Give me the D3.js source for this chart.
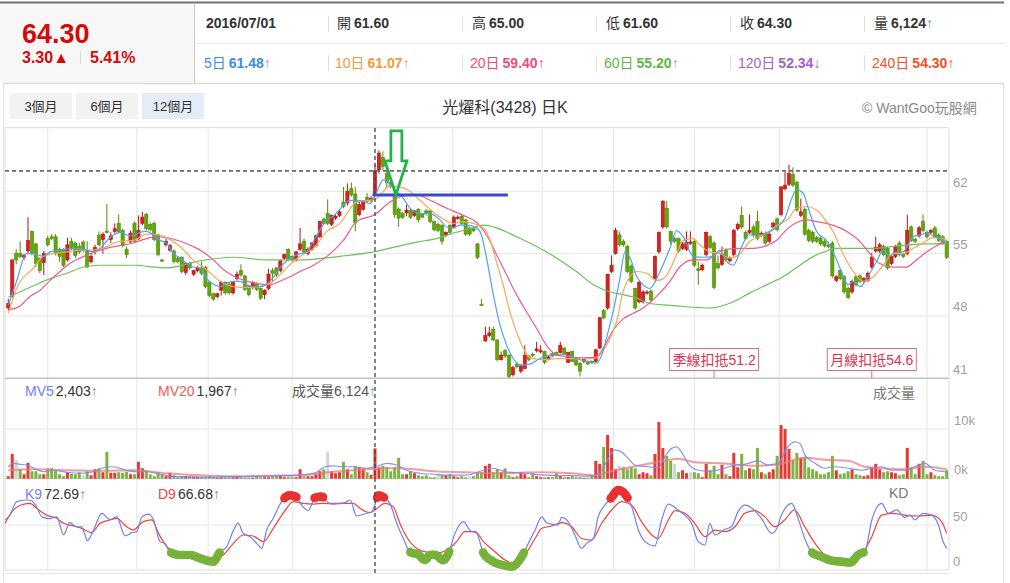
<!DOCTYPE html>
<html>
<head>
<meta charset="utf-8">
<script src="https://cdn.jsdelivr.net/npm/d3@7"></script>
<style>
body { margin: 0; background: #fff; overflow: hidden; }
svg text { font-family: "Liberation Sans", Arial, "Noto Sans CJK TC", sans-serif; }
</style>
</head>
<body>
<div id="chart"></div>
<script>
// daily OHLC, 12 months, [open, high, low, close]
var candles = [
[48.9,49.9,48.6,49.4],[50.2,54.3,50.1,54.3],[55.0,55.5,53.8,54.3],[55.0,56.4,54.5,54.7],[54.6,55.0,54.3,54.8],[55.3,59.1,55.0,56.5],[57.5,57.6,54.8,55.0],[56.1,56.2,53.5,53.9],[54.5,54.6,52.8,53.1],[54.0,55.3,52.6,55.0],
[56.7,57.0,55.8,56.0],[56.9,57.2,56.5,56.7],[56.9,57.2,54.8,55.0],[55.5,55.7,54.1,54.7],[55.5,55.6,53.5,53.7],[54.3,56.8,54.1,56.0],[56.4,56.8,55.4,55.7],[56.2,56.3,54.5,54.8],[55.8,56.2,55.0,55.2],[56.3,56.5,55.2,55.4],
[55.3,56.4,53.4,53.5],[54.1,55.1,53.9,54.7],[55.3,56.0,54.9,55.7],[57.1,57.5,55.8,56.0],[56.6,57.4,55.0,57.2],[57.5,60.6,57.3,57.4],[56.6,57.4,56.2,57.0],[57.5,58.4,57.3,57.8],[58.4,59.4,57.3,57.5],[57.6,57.8,55.7,55.9],
[55.5,55.8,54.5,54.9],[56.4,57.6,56.2,57.3],[58.4,58.6,56.2,56.4],[56.7,59.3,56.5,57.6],[58.4,59.7,58.2,59.1],[59.4,59.6,57.6,57.8],[58.3,58.5,57.5,57.7],[58.4,58.6,56.4,56.6],[57.1,57.2,54.7,54.9],[54.3,54.4,54.1,54.2],
[56.0,56.7,55.8,56.4],[55.4,56.1,55.2,55.9],[55.3,55.5,53.9,54.1],[54.5,54.7,53.9,54.1],[54.6,54.7,52.8,53.0],[52.9,54.0,52.6,53.9],[53.9,54.1,53.2,53.4],[52.7,53.2,52.5,53.1],[53.1,53.6,52.9,53.4],[53.4,54.1,52.6,52.8],
[53.5,53.6,51.1,51.3],[51.8,51.9,50.1,50.3],[50.5,50.6,49.7,49.9],[50.2,50.6,50.0,50.5],[50.9,51.9,50.3,51.8],[51.8,51.9,50.4,50.6],[51.6,51.8,50.4,50.6],[50.6,51.9,50.4,51.8],[52.2,53.0,52.0,52.7],[53.1,53.8,52.4,52.6],
[52.5,52.6,50.8,51.0],[51.3,51.4,50.2,50.4],[51.2,51.9,51.0,51.8],[51.6,51.8,50.8,51.0],[51.1,51.2,49.8,50.0],[50.4,51.0,49.9,50.9],[51.1,53.3,50.9,52.7],[53.1,53.4,51.8,52.8],[53.4,53.5,52.4,52.6],[53.1,54.3,52.9,54.2],
[54.5,55.0,54.3,54.9],[55.5,55.6,54.2,54.4],[54.7,54.8,54.1,54.3],[54.3,55.3,54.1,55.2],[55.5,57.9,55.3,56.1],[56.4,56.7,55.0,55.2],[55.0,55.7,54.8,55.5],[55.5,56.3,55.3,56.2],[55.9,57.1,55.7,57.0],[56.9,58.7,56.8,58.6],
[58.9,59.0,58.2,58.4],[59.5,61.1,58.2,58.4],[58.3,59.4,58.1,59.3],[59.0,59.4,58.8,59.2],[59.3,59.9,59.1,59.7],[60.8,62.5,60.1,60.3],[60.7,62.9,60.4,62.0],[62.3,63.0,61.4,61.6],[61.7,62.5,57.5,58.5],[59.4,60.9,59.2,60.5],
[60.0,61.0,59.8,60.9],[61.3,61.8,60.7,60.9],[61.0,61.5,60.7,61.2],[61.6,65.0,61.6,64.3],[64.4,66.6,64.0,66.3],[65.8,66.5,64.4,64.8],[64.0,64.6,62.4,63.0],[63.0,63.4,62.3,62.6],[61.7,62.0,59.0,59.4],[60.0,60.2,58.0,59.0],
[59.5,59.7,58.9,59.1],[59.6,60.5,59.2,59.9],[59.9,60.0,58.9,59.1],[59.3,59.9,59.1,59.8],[60.0,60.1,58.5,58.8],[59.4,59.6,59.0,59.1],[59.8,60.0,59.3,59.5],[59.8,59.9,58.4,58.6],[58.6,58.7,57.5,57.7],[58.3,58.5,57.4,57.6],
[58.2,58.3,56.0,56.4],[57.1,57.5,56.9,57.4],[58.2,58.3,57.2,57.4],[58.0,59.3,57.8,59.1],[59.0,59.3,58.8,59.1],[59.2,59.4,58.2,58.4],[58.8,58.9,57.0,57.2],[57.9,58.0,57.0,57.2],[57.8,57.9,57.4,57.6],[56.1,56.2,54.4,54.6],
[49.3,49.9,49.2,49.2],[45.2,46.8,45.1,45.8],[45.8,46.8,45.6,46.1],[46.5,46.8,45.2,45.3],[45.3,45.4,42.9,43.1],[43.1,44.0,43.0,43.6],[44.1,44.3,43.3,43.5],[43.6,43.7,41.0,41.2],[41.4,42.4,41.2,42.2],[42.6,42.8,42.1,42.3],
[41.8,42.5,41.6,42.4],[42.1,44.7,42.0,43.6],[43.5,43.6,42.9,43.1],[43.7,43.9,43.4,43.6],[44.1,45.1,43.9,44.3],[44.0,44.7,43.8,44.1],[44.0,44.1,42.6,42.8],[43.1,43.6,43.0,43.4],[43.8,44.0,43.4,43.5],[43.9,44.0,43.5,43.6],
[43.9,45.1,43.8,44.7],[44.4,44.5,43.6,43.7],[42.8,44.0,42.7,43.9],[44.0,44.1,42.8,42.9],[43.1,43.2,42.4,42.5],[42.7,42.8,41.2,41.8],[42.9,43.3,42.7,43.1],[42.9,43.0,42.5,42.6],[42.9,43.0,42.6,42.8],[42.9,44.3,42.8,44.2],
[44.4,47.9,44.3,47.8],[48.6,48.8,47.6,47.8],[48.9,52.7,48.7,52.7],[53.0,54.8,52.8,53.7],[55.0,57.9,54.9,57.6],[57.1,57.5,55.8,56.0],[56.4,56.6,55.8,56.0],[55.8,56.0,52.8,53.0],[53.6,53.8,51.7,51.9],[51.1,51.2,48.7,48.9],
[49.6,51.9,49.4,51.8],[49.6,50.9,49.4,50.7],[50.6,50.9,50.4,50.7],[50.8,51.0,49.6,49.8],[52.2,54.8,52.0,54.7],[55.2,57.5,55.0,57.4],[58.0,61.0,57.8,60.9],[60.1,60.9,57.8,58.0],[57.5,57.6,56.0,56.4],[56.7,56.9,56.2,56.4],
[56.7,56.8,55.1,55.3],[55.6,56.3,55.4,56.1],[55.5,57.5,55.3,56.3],[56.2,57.5,56.0,56.3],[56.4,56.5,53.5,53.7],[53.3,54.1,51.5,53.1],[53.2,53.9,53.0,53.7],[54.9,57.5,54.7,57.4],[56.9,57.1,55.5,55.7],[56.2,56.4,51.0,51.2],
[53.9,54.8,53.2,53.4],[53.8,55.8,53.6,54.9],[55.4,55.6,54.1,54.3],[54.2,54.7,54.0,54.5],[54.9,57.8,54.7,57.6],[57.8,58.5,57.6,58.3],[59.3,60.3,57.8,58.0],[57.4,57.6,56.5,56.7],[57.4,59.4,57.2,57.6],[58.0,58.2,56.9,57.1],
[58.6,59.8,56.5,56.7],[57.1,57.5,56.9,57.3],[57.3,57.5,56.0,56.2],[56.4,57.4,56.2,57.2],[58.0,58.6,57.8,58.4],[58.9,59.1,57.5,57.7],[59.4,62.6,59.2,62.5],[62.3,64.2,62.1,62.7],[62.8,65.0,62.6,64.0],[63.9,64.7,62.5,62.7],
[63.0,63.2,59.7,59.9],[59.3,61.2,59.1,59.7],[60.0,60.2,57.0,57.2],[57.6,57.8,56.3,56.5],[57.4,57.6,56.2,56.4],[56.8,57.0,56.2,56.4],[56.7,56.9,55.9,56.1],[56.4,56.6,55.7,55.9],[56.0,56.3,55.6,55.8],[56.2,56.4,52.3,52.5],
[52.0,52.6,51.8,52.4],[53.1,53.3,52.0,52.2],[52.4,52.6,50.5,50.7],[51.1,51.3,49.9,50.1],[50.7,52.1,50.5,51.9],[52.4,52.6,51.3,51.5],[52.5,52.7,51.7,51.9],[51.9,52.4,51.7,52.2],[52.0,53.0,51.8,52.8],[53.5,55.1,53.3,54.6],
[55.3,56.9,55.1,55.7],[55.3,56.2,55.1,56.0],[55.8,56.0,54.7,54.9],[55.6,55.8,53.2,53.4],[53.9,54.9,53.7,54.7],[54.7,56.0,54.5,55.8],[56.2,56.4,54.7,54.9],[54.9,55.1,54.5,54.7],[55.0,59.4,54.8,57.6],[58.0,58.2,56.3,56.5],
[56.6,56.8,56.2,56.4],[57.0,58.1,56.8,57.9],[58.6,59.4,57.4,57.6],[57.4,57.6,56.7,56.9],[57.4,57.8,57.2,57.6],[57.9,58.1,56.7,56.9],[57.1,57.3,56.3,56.5],[56.9,57.1,56.0,56.2],[56.4,56.6,54.4,54.6]
];

// volume in thousand lots
var volumes = [
0.5,5.0,3.8,1.9,0.9,3.2,1.5,1.5,0.9,0.9, 2.1,2.1,1.7,0.9,0.5,1.3,1.0,0.9,1.3,0.7,
1.5,0.7,1.9,2.1,1.3,5.4,1.2,1.2,1.3,1.2, 1.4,0.9,0.9,3.4,2.1,1.7,0.9,0.5,1.3,0.9,
0.5,1.2,0.7,0.3,0.5,0.5,0.5,0.4,0.4,0.3, 0.3,0.5,0.3,0.2,0.3,0.3,0.3,0.3,0.5,0.3,
0.2,0.2,0.2,0.5,0.3,0.3,0.3,0.5,0.5,0.7, 0.3,0.3,0.3,0.3,1.9,0.5,0.5,0.5,0.9,1.5,
1.9,5.4,1.5,1.1,1.3,3.4,1.9,0.9,2.6,2.3, 2.1,1.3,0.8,6.1,2.3,2.6,2.3,1.5,2.3,4.2,
0.9,0.9,1.5,1.1,0.7,0.5,0.7,0.3,0.3,0.9, 0.7,0.7,0.9,0.5,0.3,0.5,0.3,0.5,0.5,1.3,
1.3,2.6,3.0,1.3,1.9,1.3,2.1,0.7,0.3,0.5, 1.3,0.9,0.3,1.1,0.5,0.3,0.3,0.3,0.3,1.1,
0.5,0.3,0.3,0.5,0.3,0.3,0.2,0.2,0.7,3.6, 3.0,6.4,8.8,6.2,1.9,2.6,2.3,1.9,2.3,2.1,
0.9,1.3,1.1,0.7,5.0,11.4,6.2,4.6,3.6,3.0, 1.3,1.7,1.1,1.3,1.3,1.1,0.3,3.0,1.7,2.6,
0.9,2.8,0.9,0.5,5.2,2.3,5.0,1.7,2.1,1.9, 6.2,1.3,0.9,1.3,1.9,4.6,10.8,10.0,6.0,3.8,
5.2,4.2,4.4,2.3,1.9,1.5,0.9,0.9,1.3,4.6, 1.7,0.9,1.1,1.5,1.9,0.9,0.7,0.5,0.7,2.3,
3.0,1.9,1.3,1.5,1.3,1.1,0.7,0.9,6.2,2.3, 0.9,3.0,3.6,0.9,1.3,0.7,0.5,0.5,1.7
];
var flatDays = [2, 19, 81, 109, 117, 155, 169, 173];

// moving averages, [day index, value]
var ma5Pts = [[0,49.2],[2.1,51.9],[4.6,55.0],[6.4,55.0],[8.9,54.7],[10.6,55.2],[13.1,55.4],[17.3,55.6],[19.9,55.4],[21.6,55.2],[23.3,55.6],[24.9,56.4],[26.6,57.1],[28.3,57.4],[30.1,57.1],[31.7,57.0],[33.4,57.4],[35.1,57.5],[36.8,57.1],[38.4,56.5],[40.1,56.2],[41.9,55.0],[43.6,54.5],[45.3,53.9],[46.9,53.5],[48.6,53.4],[50.3,52.2],[52.0,51.6],[53.7,51.3],[55.4,51.7],[57.1,51.9],[58.8,51.9],[60.5,51.5],[62.2,51.3],[63.8,51.3],[65.6,51.6],[67.3,52.4],[68.9,53.4],[70.6,54.2],[72.3,54.7],[74.0,55.0],[75.6,55.2],[77.4,56.4],[79.1,57.7],[80.8,58.8],[82.4,59.2],[84.1,60.0],[86.6,61.0],[90.0,60.9],[91.7,60.6],[93,61.5],[95.1,63.3],[96.8,62.8],[98.5,62.0],[100.2,61.2],[101.9,60.1],[104.4,59.5],[106.9,59.5],[109.5,58.8],[111.2,58.0],[112.8,57.9],[114.6,58.2],[116.3,58.2],[118.8,57.9],[120.0,57.1],[121.3,54.5],[123.0,50.4],[124.7,47.0],[126.4,44.7],[128.1,43.2],[129.8,42.5],[132.3,42.6],[134.8,43.2],[137.4,43.6],[140.8,43.7],[144.1,43.2],[146.7,42.9],[149.2,42.7],[150.5,43.6],[151.7,45.5],[153.4,48.5],[155.1,52.2],[156.4,55.2],[157.7,54.5],[159.4,52.4],[161.0,51.5],[162.7,51.1],[165.3,53.0],[167.8,55.6],[169.5,57.6],[171.2,56.9],[173.7,54.7],[176.3,54.6],[178.8,54.7],[180.5,55.4],[182.2,54.1],[183.9,53.7],[186.0,55.8],[187.7,57.1],[189.8,57.1],[192.3,57.3],[194.9,58.0],[197.0,59.0],[198.7,61.2],[199.9,62.2],[201.6,61.8],[202.9,60.1],[205.0,57.5],[207.5,56.5],[209.2,55.2],[211.3,53.0],[213.0,51.5],[214.3,51.9],[216.0,51.3],[217.7,52.2],[220.2,54.1],[221.9,55.4],[223.6,54.7],[225.3,55.2],[226.9,55.2],[229.5,56.9],[231.2,57.1],[232.9,57.3],[234.6,57.0],[236.2,56.7],[238,56.2]];
var ma10Pts = [[0,48.3],[2.1,51.1],[6.4,53.4],[8.9,54.7],[11.4,55.0],[14.8,55.2],[18.2,55.4],[21.6,55.4],[24.9,55.8],[28.3,56.4],[31.7,56.5],[35.1,57.2],[38.4,57.1],[40.1,56.8],[43.6,55.8],[46.9,54.3],[50.3,53.2],[53.7,51.9],[57.1,51.3],[60.5,51.2],[63.8,51.3],[67.2,51.9],[70.6,53.4],[74.0,54.7],[77.4,55.6],[80.8,57.5],[84.1,58.4],[88.3,60.8],[93,61.1],[96.8,62.6],[99.3,62.5],[101.9,62.0],[104.4,61.0],[106.9,60.0],[110.3,58.9],[112.8,58.4],[115.4,58.6],[117.9,58.4],[120.5,57.9],[122.2,56.5],[123.8,54.1],[125.5,51.5],[127.2,48.5],[128.9,46.2],[130.6,44.4],[132.3,43.3],[135.7,43.1],[139.1,43.2],[142.4,43.2],[145.8,43.2],[148.4,43.2],[150.0,43.6],[152.6,45.5],[154.3,47.4],[155.9,50.7],[157.6,52.4],[159.4,53.0],[161.9,52.8],[164.4,52.0],[166.1,52.2],[167.8,53.2],[169.2,54.6],[171.2,56.5],[173.7,56.7],[175.4,56.0],[177.9,55.2],[180.5,55.0],[183.0,54.5],[185.6,55.0],[188.1,56.4],[190.6,56.9],[193.2,57.6],[195.7,58.4],[197.8,58.9],[199.9,60.1],[202.4,60.3],[205.0,59.9],[207.5,58.6],[209.2,57.5],[211.8,54.9],[214.3,53.0],[216.8,51.9],[219.4,52.4],[221.9,53.7],[224.4,55.0],[226.9,55.0],[229.5,55.6],[232.0,56.2],[234.6,56.8],[237.1,56.7],[238,56.3]];
var ma20Pts = [[0,48.7],[2.9,49.1],[5.5,50.2],[8.1,50.9],[10.6,52.0],[13.1,53.0],[15.6,53.9],[18.2,54.5],[20.7,55.0],[23.3,55.4],[25.8,55.7],[28.3,55.9],[31.7,56.2],[35.1,56.7],[37.6,56.9],[40.1,56.8],[43.6,56.4],[46.9,55.8],[49.4,55.2],[52.0,54.3],[54.6,53.2],[57.1,52.5],[60.5,51.9],[63.8,51.6],[66.4,51.5],[68.9,51.9],[71.4,52.4],[74.0,53.0],[77.4,53.7],[80.8,54.7],[85.0,56.5],[88.3,58.6],[93,59.4],[96.8,60.8],[100.2,61.5],[103.6,61.6],[107.0,61.0],[111.2,60.1],[115.4,59.3],[118.8,58.5],[121.3,57.1],[123.8,54.9],[126.4,52.6],[128.9,50.4],[131.4,48.5],[134.0,46.6],[136.5,44.7],[139.1,43.6],[142.4,43.4],[145.8,43.3],[149.2,43.4],[150.9,44.4],[153.4,46.4],[156.0,47.7],[158.5,48.3],[161.0,48.9],[164.4,50.2],[167.8,51.9],[170.3,53.5],[173.7,54.3],[177.1,54.3],[179.6,55.0],[182.2,55.5],[185.5,55.6],[188.9,55.6],[192.3,55.9],[194.9,56.5],[197.4,57.7],[199.9,58.5],[202.4,58.8],[205.0,58.6],[207.5,58.4],[210.9,57.9],[213.4,57.3],[215.9,56.4],[218.5,55.0],[221.0,53.9],[224.4,53.5],[227.8,53.5],[230.3,54.3],[232.9,55.2],[235.4,55.9],[238,56.5]];
var ma60Pts = [[0,50.1],[2.9,50.7],[6.4,51.4],[10.6,52.2],[14.8,52.8],[19.1,53.5],[23.3,53.7],[31.7,53.7],[40.1,53.4],[48.6,54.2],[57.1,54.6],[65.6,54.3],[74.0,54.3],[84.1,54.7],[92.6,55.2],[98.5,55.8],[103.6,56.3],[108.6,56.7],[112.8,57.3],[117.1,57.8],[120.5,58.2],[123.8,57.9],[128.9,56.9],[134.0,55.8],[139.1,54.5],[144.1,53.0],[148.4,51.5],[152.6,50.7],[156.0,50.4],[159.4,50.0],[162.7,49.4],[167.8,49.2],[170.3,49.1],[177.9,48.9],[183.9,49.6],[188.1,50.6],[192.3,51.5],[196.5,52.4],[200.8,53.7],[204.2,54.7],[207.5,55.3],[209.2,55.6],[212.6,55.6],[219.4,55.6],[226.1,55.9],[232.9,56.1],[238,56.1]];

// volume averages (thousand lots)
var mv5Pts = [[0,2.4],[1.3,3.1],[3.0,2.9],[4.7,2.75],[6.3,2.2],[8.9,1.4],[11.4,1.7],[14.8,1.3],[18.2,1.1],[21.6,1.4],[24.1,2.2],[26.6,2.4],[30.0,1.7],[32.6,1.4],[35.1,1.4],[38.5,0.9],[41.9,0.4],[48.6,0.3],[57.1,0.4],[65.5,0.5],[70.6,0.6],[74.0,0.7],[78.2,1.3],[80.3,2.4],[82.4,2.6],[85.0,2.4],[87.5,2.4],[90.9,2.1],[93,2.4],[96.0,3.1],[98.5,2.75],[101.0,1.7],[104.4,1.1],[107.8,0.9],[112.0,0.7],[116.2,0.7],[120.5,1.7],[123.0,2.1],[126.0,1.4],[131.0,1.1],[136.1,0.7],[142.9,0.6],[147.9,0.5],[150.5,1.7],[152.2,4.1],[153.8,5.8],[155.5,5.4],[157.2,4.1],[158.9,2.75],[162.3,2.4],[164.8,2.2],[166.5,4.4],[168.2,6.1],[169.5,6.4],[170.7,5.4],[172.4,3.1],[175.0,1.7],[177.5,1.5],[180.9,1.9],[184.3,2.75],[186.8,2.9],[190.2,3.6],[192.7,2.75],[195.3,3.1],[197.4,6.1],[199.5,7.4],[200.8,7.1],[202.0,4.8],[204.6,3.1],[207.1,2.1],[209.6,2.4],[213.0,2.1],[216.4,1.7],[218.9,2.1],[221.5,2.4],[224.0,1.7],[227.4,1.7],[229.9,2.4],[232.5,3.1],[235.0,1.7],[237.5,1.4],[238,1.3]];
var mv20Pts = [[0,1.7],[6.3,1.9],[14.8,1.7],[23.3,1.6],[31.7,1.7],[40.2,1.1],[48.6,0.7],[57.1,0.5],[65.5,0.6],[74.0,0.7],[82.4,1.4],[90.9,1.9],[93,1.97],[95.1,2.1],[99.3,2.1],[107.8,1.5],[116.2,1.3],[124.7,1.1],[134.4,1.3],[142.9,1.1],[148.8,0.7],[153.8,1.7],[159.8,2.6],[166.5,3.6],[169.9,4.0],[174.1,3.3],[180.9,3.1],[189.4,2.6],[195.3,2.9],[202.0,4.2],[207.1,3.8],[213.0,3.6],[217.3,2.4],[221.5,2.1],[227.4,1.9],[232.5,2.4],[238,1.9]];

// KD(9)
var kPts = [[-0.8,55.6],[0.4,61],[2.1,76],[4.7,77.8],[5.9,77],[7.2,70],[8.5,59],[10.6,57],[12.3,59],[14.0,39],[15.6,52.6],[17.3,48],[18.6,48],[20.1,32.6],[21.6,44],[23.7,63],[25.8,56],[27.5,59],[29.6,38],[31.3,41.5],[32.6,42.6],[33.8,58.5],[35.5,62],[36.8,56],[38.5,31.5],[39.7,29.6],[41.0,20],[43.5,16.7],[46.1,16.7],[48.6,13],[52.0,9.3],[53.7,20],[55.4,26],[57.1,44],[58.3,52],[59.6,40.7],[61.3,37],[63.0,29.6],[64.3,24],[65.5,44],[67.2,57.4],[69.3,76],[71.4,83],[73.1,81],[74.4,72],[76.1,66],[77.8,80.5],[79.5,81.5],[81.6,74],[83.7,74],[85.4,74.8],[86.7,77.8],[88.3,60],[90.9,63],[92.2,64.8],[93,72.7],[93.9,83],[95.1,81],[96.8,74],[98.5,52],[100.2,35],[101.9,20],[104.0,17],[105.7,11],[107.0,17],[108.2,17],[110.3,11],[111.6,18],[113.3,40.7],[115.4,53.7],[117.1,44],[118.8,40.7],[120.5,19],[123.0,9.3],[126.0,5],[127.7,3.7],[130.2,14.8],[131.9,29.6],[133.6,44.4],[135.3,59],[136.5,52.6],[138.2,50.7],[139.5,50],[140.3,58.5],[142.0,53.7],[143.7,38.9],[145.4,24],[146.7,29.6],[148.4,35],[149.6,59],[151.3,72],[153.0,80.7],[154.7,88.9],[156.4,84.4],[158.1,70.4],[159.8,44.4],[161.5,31.5],[164.0,26.7],[165.7,55.6],[167.4,73.3],[169.9,66.7],[171.6,61],[173.3,51.9],[175.0,31.5],[176.7,27.8],[177.9,51.9],[179.2,38.9],[181.8,45.2],[183.4,48],[185.1,64.8],[186.8,72],[189.3,66],[191.0,57.4],[193.6,40.7],[194.8,45.2],[196.1,61],[198.7,74],[200.3,57.4],[202.0,35],[203.7,20],[206.2,14.8],[208.8,10.4],[211.3,9.3],[213.5,8.1],[215.6,17],[217.3,21],[219.0,55.6],[221.5,74],[223.2,63],[225.3,66.7],[227.4,58.5],[228.7,61],[229.9,55.6],[232.0,63],[234.2,61],[235.9,50],[237.1,31.5],[238,24]];
var dPts = [[-0.8,51.9],[1.3,66.7],[3.0,72],[5.5,74],[7.2,68.5],[9.7,61],[12.3,57.4],[14.0,51.9],[16.5,49],[18.6,46.3],[21.1,41.5],[23.3,51.9],[25.8,55.6],[27.5,57.4],[30.0,48],[31.7,44.4],[34.2,53.7],[36.4,55.6],[38.1,40.7],[40.2,26],[42.7,20],[45.2,17.8],[48.6,15.6],[52.0,11],[54.5,16.7],[57.1,29.6],[59.6,38.9],[62.1,37.8],[64.7,31.5],[67.2,46.3],[69.7,63],[72.3,76],[74.8,74],[77.4,73.3],[79.9,74],[82.4,73.3],[85.0,74],[87.5,74],[89.2,68.5],[91.7,63.7],[93,66.7],[95.5,74],[97.6,70.4],[99.3,52],[101.0,37],[103.6,24],[106.1,20],[108.6,19],[111.2,22],[113.7,31.5],[115.8,42.6],[118.4,42.6],[120.5,31.5],[123.0,22],[126.0,11],[128.5,6.7],[131.0,16.7],[133.6,35],[135.3,46.3],[137.8,48.9],[140.3,52.6],[142.9,48],[145.4,35],[147.9,33.3],[150.5,51.9],[153.0,66.7],[155.6,76],[158.1,72],[160.6,53.7],[163.2,38.9],[164.8,35],[167.4,55.6],[169.1,66],[171.6,63],[174.1,51.9],[176.7,37],[179.2,44.4],[181.8,42.6],[184.3,48],[186.8,63],[189.3,66],[191.9,59],[194.4,48],[196.9,55.6],[199.4,66.7],[202.0,48],[204.6,29.6],[207.1,16.7],[210.5,11],[213.9,9.3],[216.4,16.7],[219.0,37],[221.5,61],[224.1,63],[227.4,61],[230.8,60],[234.2,61],[236.7,53.7],[238,40.7]];

var priceTicks = [62, 55, 48, 41];
var volTicks = [10, 0];
var kdTicks = [50, 0];
var monthStarts = [10, 32.6, 50.7, 72, 112.7, 135.4, 153.5, 174, 195.5, 233];
var crossIdx = 93;
var crossClose = 64.30;
var supportPrice = 61.6, supportEnd = 126.7, arrowIdx = 98.3;
var deductions = [[179, "季線扣抵", 51.2], [219, "月線扣抵", 54.6]];
var kdLow = 20.5, kdHigh = 79.5;

var headRow1 = [["", "2016/07/01", ""], ["開", "61.60", ""], ["高", "65.00", ""], ["低", "61.60", ""], ["收", "64.30", ""], ["量", "6,124", "↑"]];
var headRow2 = [["5日", "61.48", "↑"], ["10日", "61.07", "↑"], ["20日", "59.40", "↑"], ["60日", "55.20", "↑"], ["120日", "52.34", "↓"], ["240日", "54.30", "↑"]];
var row2Colors = ["#3b8ee0", "#f7983a", "#ec4d7e", "#5ab841", "#a25fd1", "#f4511e"];
var row2ArrowColors = ["#9f8ad6", "#f7983a", "#ec4d7e", "#5fb8b8", "#a25fd1", "#f4511e"];
var rangeButtons = ["3個月", "6個月", "12個月"];

var W = 1010, H = 583;
var plotLeft = 5, plotRight = 949;
var upFill = "#d5231f", upLine = "#b8100d", downFill = "#62a60c", downLine = "#4e8c06";

var svg = d3.select("#chart").append("svg")
    .attr("width", W)
    .attr("height", H);

var x = d3.scaleLinear().domain([0, candles.length - 1]).range([8.3, 946.7]);
var yPrice = d3.scaleLinear().domain([41, 69.12]).range([378.3, 128]);
var yVol = d3.scaleLinear().domain([0, 10]).range([478.7, 429]);
var yKD = d3.scaleLinear().domain([0, 100]).range([570, 480]);

function addText(g, tx, ty, size, color, weight) {
    return g.append("text")
        .attr("x", tx)
        .attr("y", ty)
        .style("font-size", size + "px")
        .style("fill", color)
        .style("font-weight", weight || "normal");
}

function hline(g, x1, x2, yy, color, w) {
    return g.append("line").attr("x1", x1).attr("x2", x2).attr("y1", yy).attr("y2", yy)
        .style("stroke", color).style("stroke-width", w || 1);
}

function vline(g, xx, y1, y2, color, w) {
    return g.append("line").attr("x1", xx).attr("x2", xx).attr("y1", y1).attr("y2", y2)
        .style("stroke", color).style("stroke-width", w || 1);
}

function drawHeader() {
    var g = svg.append("g");
    g.append("rect").attr("x", 0).attr("y", 3).attr("width", 194).attr("height", 80).style("fill", "#f7f7f7");
    hline(g, 0, 1004, 2.5, "#6e7378", 2);
    hline(g, 3, 1004, 83.5, "#dcdcdc", 1.5);
    hline(g, 194, 1004, 43.5, "#e8e8e8", 1);
    vline(g, 194.5, 3, 83, "#c9c9c9", 1);
    vline(g, 3.5, 83, 583, "#e2e2e2", 1);
    vline(g, 1003.5, 83, 583, "#dcdcdc", 1);

    addText(g, 22, 43, 27, "#d20a0a", "bold").text("64.30");
    addText(g, 22, 63, 16, "#d20a0a", "bold").text("3.30▲");
    vline(g, 80.5, 51, 64, "#d8d8d8", 1);
    addText(g, 90, 63, 16, "#d20a0a", "bold").text("5.41%");

    var col = [206, 337, 472, 606, 740, 874];
    [328, 462, 596, 730, 864].forEach(function(sx) {
        vline(g, sx + 0.5, 16, 32, "#dddddd", 1);
        vline(g, sx + 0.5, 55, 71, "#dddddd", 1);
    });

    headRow1.forEach(function(d, i) {
        var t = addText(g, col[i], 28, 14, "#333");
        if (d[0]) t.append("tspan").text(d[0]);
        t.append("tspan").attr("dx", d[0] ? 3 : 0).style("font-weight", "bold").text(d[1]);
        if (d[2]) t.append("tspan").style("fill", "#4aa3b0").text(d[2]);
    });

    headRow2.forEach(function(d, i) {
        var t = addText(g, col[i] - 2, 67.5, 14, row2Colors[i]);
        t.append("tspan").text(d[0]);
        t.append("tspan").attr("dx", 3).style("font-weight", "bold").text(d[1]);
        t.append("tspan").style("fill", row2ArrowColors[i]).text(d[2]);
    });

    rangeButtons.forEach(function(b, i) {
        g.append("rect")
            .attr("x", 10 + i * 66).attr("y", 93)
            .attr("width", 62).attr("height", 26)
            .style("fill", i == 2 ? "#e4edf7" : "#f2f2f2");
        addText(g, 41 + i * 66, 111, 13, "#333").attr("text-anchor", "middle").text(b);
    });

    addText(g, 505, 113, 16, "#333").attr("text-anchor", "middle").text("光燿科(3428) 日K");
    addText(g, 862, 112.5, 14, "#8a8a8a").text("© WantGoo玩股網");
}

function drawFrames() {
    var g = svg.append("g");
    // month grid
    monthStarts.forEach(function(m) {
        vline(g, x(m), 128, 570, "#e6e6e6", 1);
    });
    priceTicks.slice(0, 3).forEach(function(v) {
        hline(g, plotLeft, plotRight, yPrice(v), "#e6e6e6", 1);
    });
    hline(g, plotLeft, plotRight, yVol(10), "#e6e6e6", 1);
    hline(g, plotLeft, plotRight, yKD(50), "#e6e6e6", 1);

    hline(g, plotLeft, plotRight, 127.7, "#dddddd", 1);
    vline(g, plotLeft, 127.7, 570, "#dddddd", 1);
    vline(g, plotRight, 127.7, 570, "#dddddd", 1);
    hline(g, plotLeft, plotRight, 378.3, "#c4c4c4", 1.5);
    hline(g, plotLeft, plotRight, 478.7, "#cfcfcf", 1.2);
    hline(g, plotLeft, plotRight, 570, "#dddddd", 1.2);
    hline(g, plotLeft, plotRight, 573.5, "#e6e6e6", 1);

    priceTicks.forEach(function(v) {
        addText(g, 953, yPrice(v) - 4.5, 13, "#a0a0a0").text(v);
    });
    volTicks.forEach(function(v) {
        addText(g, 954, yVol(v) - 4.3, 13, "#a0a0a0").text(v + "k");
    });
    kdTicks.forEach(function(v) {
        addText(g, 953, yKD(v) - 4.3, 13, "#a0a0a0").text(v);
    });
}

function drawLine(pts, yScale, color, width, opacity) {
    var line = d3.line()
        .x(function(d) { return x(d[0]); })
        .y(function(d) { return yScale(d[1]); })
        .curve(d3.curveMonotoneX);
    return svg.append("path")
        .datum(pts)
        .attr("d", line)
        .style("fill", "none")
        .style("stroke", color)
        .style("stroke-width", width)
        .style("opacity", opacity || 1);
}

function drawCandles() {
    var g = svg.append("g");
    g.selectAll(".wick")
        .data(candles)
        .enter().append("line")
        .attr("class", "wick")
        .attr("x1", function(d, i) { return x(i); })
        .attr("x2", function(d, i) { return x(i); })
        .attr("y1", function(d) { return yPrice(d[1]); })
        .attr("y2", function(d) { return yPrice(d[2]); })
        .style("stroke", function(d) { return d[3] >= d[0] ? upLine : downLine; })
        .style("stroke-width", 1);

    g.selectAll(".body")
        .data(candles)
        .enter().append("rect")
        .attr("class", "body")
        .attr("x", function(d, i) { return x(i) - 1.6; })
        .attr("width", 3.2)
        .attr("y", function(d) { return yPrice(Math.max(d[0], d[3])); })
        .attr("height", function(d) {
            return Math.max(1.2, yPrice(Math.min(d[0], d[3])) - yPrice(Math.max(d[0], d[3])));
        })
        .style("fill", function(d) { return d[3] >= d[0] ? upFill : downFill; })
        .style("stroke", function(d) { return d[3] >= d[0] ? upLine : downLine; })
        .style("stroke-width", 0.6);
}

function drawVolume() {
    var g = svg.append("g");
    g.selectAll("rect")
        .data(volumes)
        .enter().append("rect")
        .attr("x", function(d, i) { return x(i) - 1.5; })
        .attr("width", 3)
        .attr("y", function(d) { return yVol(d); })
        .attr("height", function(d) { return yVol(0) - yVol(d); })
        .style("fill", function(d, i) {
            if (flatDays.indexOf(i) >= 0) return "#cfd6db";
            return candles[i][3] >= candles[i][0] ? "#e53935" : "#7cb342";
        });
    drawLine(mv20Pts, yVol, "#f07a7a", 2, 0.75);
    drawLine(mv5Pts, yVol, "#7688f5", 1.2, 0.9);

    var t = addText(svg, 25, 396, 14, "#6f7ff7");
    t.append("tspan").text("MV5");
    t.append("tspan").attr("dx", 2).style("fill", "#333").text("2,403");
    t.append("tspan").style("fill", "#a070a8").text("↑");
    var t2 = addText(svg, 158, 396, 14, "#f05a5a");
    t2.append("tspan").text("MV20");
    t2.append("tspan").attr("dx", 2).style("fill", "#333").text("1,967");
    t2.append("tspan").style("fill", "#a070a8").text("↑");
    var t3 = addText(svg, 292, 396, 14, "#555");
    t3.append("tspan").text("成交量6,124");
    t3.append("tspan").style("fill", "#4aa3b0").text("↑");
    addText(svg, 873, 398, 14, "#777").text("成交量");
}

// dots along the K curve wherever it sits in the overbought / oversold zone
function drawBeads(path, test, color) {
    var node = path.node(), len = node.getTotalLength();
    var spots = [];
    for (var s = 0; s <= len; s += 2.2) {
        var p = node.getPointAtLength(s);
        if (test(yKD.invert(p.y))) spots.push(p);
    }
    svg.append("g").selectAll("circle")
        .data(spots)
        .enter().append("circle")
        .attr("cx", function(p) { return p.x; })
        .attr("cy", function(p) { return p.y; })
        .attr("r", 4.3)
        .style("fill", color);
}

function drawKD() {
    drawLine(dPts, yKD, "#f0443a", 1.2);
    var kPath = drawLine(kPts, yKD, "#6f80f2", 1.2);

    drawBeads(kPath, function(v) { return v <= kdLow; }, "#77b23a");
    drawBeads(kPath, function(v) { return v >= kdHigh; }, "#e8312f");

    var t = addText(svg, 25, 499, 14, "#6f80f2");
    t.append("tspan").text("K9");
    t.append("tspan").attr("dx", 2).style("fill", "#333").text("72.69");
    t.append("tspan").style("fill", "#a070a8").text("↑");
    var t2 = addText(svg, 158, 499, 14, "#f0443a");
    t2.append("tspan").text("D9");
    t2.append("tspan").attr("dx", 2).style("fill", "#333").text("66.68");
    t2.append("tspan").style("fill", "#a070a8").text("↑");
    addText(svg, 889, 498, 14, "#777").text("KD");
}

function drawMarkers() {
    var g = svg.append("g");
    // crosshair
    vline(g, x(crossIdx), 128, 574, "#444", 1.3).style("stroke-dasharray", "4,3");
    hline(g, plotLeft, plotRight, yPrice(crossClose), "#6a6a6a", 1.6).style("stroke-dasharray", "4,3");

    // deduction labels
    deductions.forEach(function(d) {
        var cx = x(d[0]);
        vline(g, cx, 370.5, 378.3, "#e8687e", 1);
        g.append("rect")
            .attr("x", cx - 44.5).attr("y", 348.5)
            .attr("width", 89).attr("height", 22)
            .style("fill", "#fff")
            .style("stroke", "#e8687e")
            .style("stroke-width", 1);
        addText(g, cx, 365, 14, "#e0304f").attr("text-anchor", "middle").text(d[1] + d[2]);
    });

    // support line and arrow annotation
    hline(g, x(crossIdx) - 2.5, x(supportEnd), yPrice(supportPrice), "#3f48cc", 3);
    var tx = x(arrowIdx), ty = yPrice(supportPrice);
    var pts = [[tx - 5, ty - 64], [tx + 6, ty - 64], [tx + 6, ty - 34], [tx + 11, ty - 34],
               [tx, ty], [tx - 11, ty - 34], [tx - 5, ty - 34]];
    g.append("polygon")
        .attr("points", pts.map(function(p) { return p.join(","); }).join(" "))
        .style("fill", "none")
        .style("stroke", "#22b14c")
        .style("stroke-width", 2.8);
}

drawHeader();
drawFrames();
drawCandles();
drawLine(ma60Pts, yPrice, "#6cc15a", 1.2);
drawLine(ma20Pts, yPrice, "#ef5b8f", 1.2);
drawLine(ma10Pts, yPrice, "#f9a65a", 1.2);
drawLine(ma5Pts, yPrice, "#4fa3ee", 1.2);
drawVolume();
drawKD();
drawMarkers();
</script>
</body>
</html>
